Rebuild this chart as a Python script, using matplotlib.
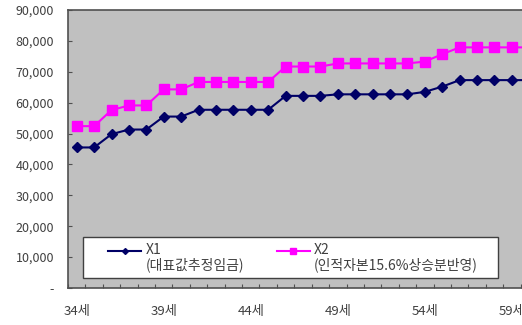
import numpy as np
import matplotlib.pyplot as plt
from matplotlib.lines import Line2D
from matplotlib.patches import Rectangle
from matplotlib.legend_handler import HandlerLine2D
from matplotlib.ticker import FuncFormatter

plt.rcParams['font.family'] = ['Noto Sans CJK KR', 'DejaVu Sans']

# 연령 (34세 ~ 60세)
ages = list(range(34, 61))
x1 = [45500, 45500, 49800, 51300, 51300, 55500, 55500, 57700, 57700, 57700,
      57700, 57700, 62200, 62200, 62200, 62700, 62700, 62700, 62700, 62700,
      63500, 65200, 67300, 67300, 67300, 67300, 67300]
x2 = [52400, 52400, 57600, 59100, 59100, 64300, 64300, 66700, 66700, 66700,
      66700, 66700, 71700, 71700, 71700, 72700, 72700, 72700, 72700, 72700,
      73300, 75700, 77900, 77900, 77900, 77900, 77900]
label_x1 = 'X1\n(대표값추정임금)'
label_x2 = 'X2\n(인적자본15.6%상승분반영)'

c1 = '#000066'
c2 = '#ff00ff'


class FirstLineHandler(HandlerLine2D):
    # 범례 기호를 두 줄 라벨의 첫 줄 높이에 맞춤
    def create_artists(self, legend, orig_handle, xdescent, ydescent,
                       width, height, fontsize, trans):
        arts = super().create_artists(legend, orig_handle, xdescent, ydescent,
                                      width, height, fontsize, trans)
        for a in arts:
            a.set_ydata(np.asarray(a.get_ydata()) + fontsize * 0.55)
        return arts


fig = plt.figure(figsize=(5.22, 3.25), dpi=100)
ax = fig.add_axes([68 / 522, 37 / 325, 470 / 522, 278 / 325])
ax.set_facecolor('#c0c0c0')

idx = np.arange(len(ages))
ax.plot(idx, x1, color=c1, lw=1.5, marker='D', ms=5.5)
ax.plot(idx, x2, color=c2, lw=1.5, marker='s', ms=6.5)

ax.set_xlim(-0.5, len(ages) - 0.5)
ax.set_ylim(0, 90000)
ax.set_yticks(np.arange(0, 90001, 10000))
ax.yaxis.set_major_formatter(FuncFormatter(lambda v, p: '-' if v == 0 else f'{int(v):,}'))

# 눈금: 범주 경계마다, 라벨은 5세 간격
ax.set_xticks(np.arange(-0.5, len(ages), 1.0))
ax.set_xticklabels([])
ax.set_xticks(idx[::5], minor=True)
ax.set_xticklabels([f'{a}세' for a in ages[::5]], minor=True)
ax.tick_params(axis='x', which='major', direction='in', length=3, color='#505050')
ax.tick_params(axis='x', which='minor', length=0, pad=12, labelsize=9.5, labelcolor='#404040')
ax.tick_params(axis='y', direction='in', length=3, color='#505050', pad=10,
               labelsize=9, labelcolor='#404040')

for side in ['left', 'top', 'bottom', 'right']:
    ax.spines[side].set_color('#505050')
    ax.spines[side].set_linewidth(1.2)

# 범례 상자
ax.add_patch(Rectangle((15 / 470, 10 / 278), 415 / 470, 41 / 278,
                       transform=ax.transAxes, facecolor='white',
                       edgecolor='#404040', lw=1.0, zorder=4))

h1 = Line2D([], [], color=c1, lw=1.5, marker='D', ms=3)
h2 = Line2D([], [], color=c2, lw=1.5, marker='s', ms=4)
leg = ax.legend([h1, h2], [label_x1, label_x2], loc='center left',
                bbox_to_anchor=(40 / 470, 10 / 278, 370 / 470, 41 / 278),
                mode='expand', ncol=2, fontsize=10, frameon=False,
                handlelength=2.4, handletextpad=0.3, borderpad=0,
                borderaxespad=0, labelspacing=0.2,
                handler_map={Line2D: FirstLineHandler()})
leg.set_zorder(5)
for t in leg.get_texts():
    t.set_color('#404040')
    t.set_linespacing(1.1)

fig.savefig('out.png', dpi=100)
